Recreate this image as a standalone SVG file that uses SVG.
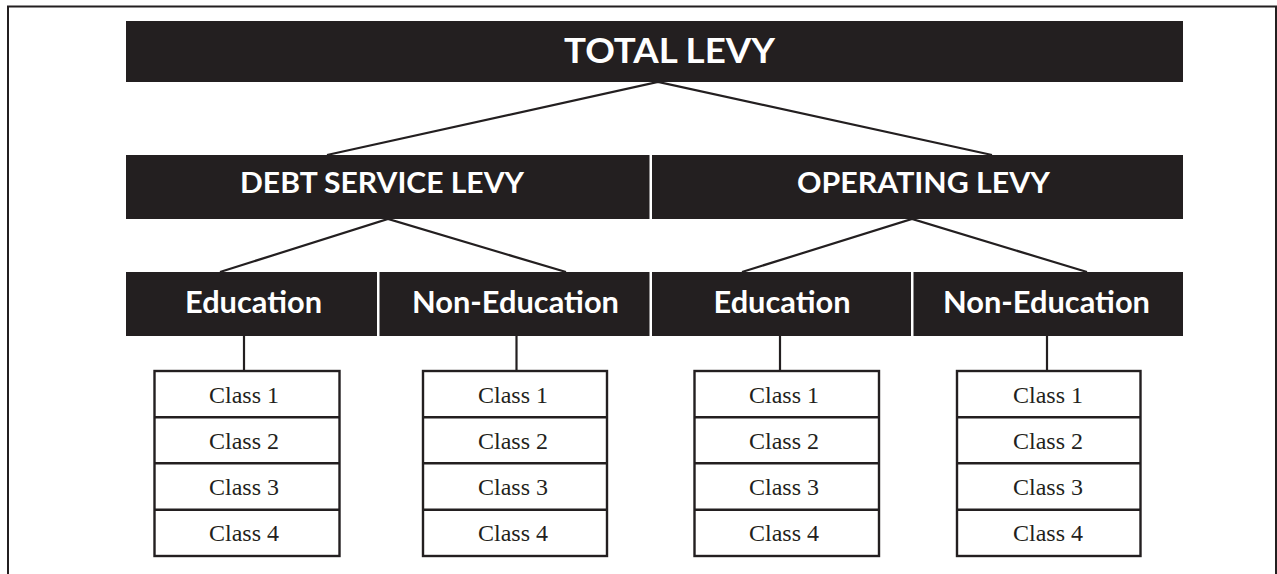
<svg xmlns="http://www.w3.org/2000/svg" width="1277" height="574" viewBox="0 0 1277 574">
  <style>
    .bar { fill: #231f20; }
    .h { fill: #ffffff; font-family: Lato, "Open Sans", "Liberation Sans", sans-serif; font-weight: bold; text-anchor: middle; }
    .box { fill: #ffffff; stroke: #231f20; stroke-width: 2.4; }
    .row { stroke: #231f20; stroke-width: 2.4; }
    .c { fill: #231f20; font-family: "Liberation Serif", serif; font-size: 24px; text-anchor: middle; }
    .ln { fill: none; stroke: #231f20; stroke-width: 2.2; }
  </style>
  <rect width="1277" height="574" fill="#ffffff"/>
  <path d="M8,574 V6.5 H1276 V574" fill="none" stroke="#231f20" stroke-width="2"/>

  <g id="connectors">
    <polyline class="ln" points="327,155 658,82 992,155"/>
    <polyline class="ln" points="220,272 388,219 566,272"/>
    <polyline class="ln" points="742,272 912,219 1087,272"/>
    <line class="ln" x1="244" y1="336" x2="244" y2="371"/>
    <line class="ln" x1="516.5" y1="336" x2="516.5" y2="371"/>
    <line class="ln" x1="780" y1="336" x2="780" y2="371"/>
    <line class="ln" x1="1047" y1="336" x2="1047" y2="371"/>
  </g>

  <g id="total-levy">
    <rect class="bar" x="126" y="21" width="1057" height="61"/>
    <text class="h" x="669.5" y="62.7" font-size="35" textLength="211" lengthAdjust="spacingAndGlyphs">TOTAL LEVY</text>
  </g>

  <g id="debt-service-levy">
    <rect class="bar" x="126" y="155" width="523.5" height="64"/>
    <text class="h" x="382" y="192.7" font-size="29" textLength="284" lengthAdjust="spacingAndGlyphs">DEBT SERVICE LEVY</text>
  </g>

  <g id="operating-levy">
    <rect class="bar" x="652" y="155" width="531" height="64"/>
    <text class="h" x="923.5" y="192.7" font-size="29" textLength="253" lengthAdjust="spacingAndGlyphs">OPERATING LEVY</text>
  </g>

  <g id="debt-education">
    <rect class="bar" x="126" y="272" width="251" height="64"/>
    <text class="h" x="253.5" y="312.7" font-size="30" textLength="137" lengthAdjust="spacingAndGlyphs">Education</text>
  </g>

  <g id="debt-non-education">
    <rect class="bar" x="379.5" y="272" width="270" height="64"/>
    <text class="h" x="515.5" y="312.7" font-size="30" textLength="207" lengthAdjust="spacingAndGlyphs">Non-Education</text>
  </g>

  <g id="op-education">
    <rect class="bar" x="652" y="272" width="259" height="64"/>
    <text class="h" x="782" y="312.7" font-size="30" textLength="137" lengthAdjust="spacingAndGlyphs">Education</text>
  </g>

  <g id="op-non-education">
    <rect class="bar" x="913.5" y="272" width="269.5" height="64"/>
    <text class="h" x="1046.5" y="312.7" font-size="30" textLength="207" lengthAdjust="spacingAndGlyphs">Non-Education</text>
  </g>

  <g id="debt-education-classes">
    <rect class="box" x="154.5" y="371" width="185" height="185"/>
    <line class="row" x1="154.5" y1="417.3" x2="339.5" y2="417.3"/>
    <line class="row" x1="154.5" y1="463.3" x2="339.5" y2="463.3"/>
    <line class="row" x1="154.5" y1="509.7" x2="339.5" y2="509.7"/>
    <text class="c" x="244" y="402.5">Class 1</text>
    <text class="c" x="244" y="448.5">Class 2</text>
    <text class="c" x="244" y="494.5">Class 3</text>
    <text class="c" x="244" y="541">Class 4</text>
  </g>

  <g id="debt-non-education-classes">
    <rect class="box" x="423" y="371" width="184" height="185"/>
    <line class="row" x1="423" y1="417.3" x2="607" y2="417.3"/>
    <line class="row" x1="423" y1="463.3" x2="607" y2="463.3"/>
    <line class="row" x1="423" y1="509.7" x2="607" y2="509.7"/>
    <text class="c" x="513" y="402.5">Class 1</text>
    <text class="c" x="513" y="448.5">Class 2</text>
    <text class="c" x="513" y="494.5">Class 3</text>
    <text class="c" x="513" y="541">Class 4</text>
  </g>

  <g id="op-education-classes">
    <rect class="box" x="694.5" y="371" width="184.5" height="185"/>
    <line class="row" x1="694.5" y1="417.3" x2="879" y2="417.3"/>
    <line class="row" x1="694.5" y1="463.3" x2="879" y2="463.3"/>
    <line class="row" x1="694.5" y1="509.7" x2="879" y2="509.7"/>
    <text class="c" x="784" y="402.5">Class 1</text>
    <text class="c" x="784" y="448.5">Class 2</text>
    <text class="c" x="784" y="494.5">Class 3</text>
    <text class="c" x="784" y="541">Class 4</text>
  </g>

  <g id="op-non-education-classes">
    <rect class="box" x="957" y="371" width="183.5" height="185"/>
    <line class="row" x1="957" y1="417.3" x2="1140.5" y2="417.3"/>
    <line class="row" x1="957" y1="463.3" x2="1140.5" y2="463.3"/>
    <line class="row" x1="957" y1="509.7" x2="1140.5" y2="509.7"/>
    <text class="c" x="1048" y="402.5">Class 1</text>
    <text class="c" x="1048" y="448.5">Class 2</text>
    <text class="c" x="1048" y="494.5">Class 3</text>
    <text class="c" x="1048" y="541">Class 4</text>
  </g>
</svg>
